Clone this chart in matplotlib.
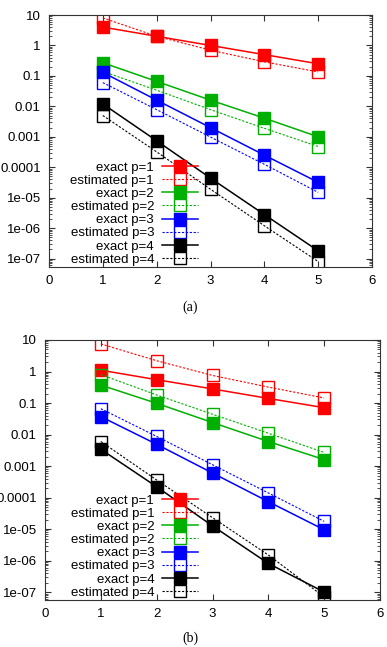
import matplotlib
matplotlib.use("Agg")
import matplotlib.pyplot as plt
from matplotlib.ticker import LogLocator, NullFormatter, FixedLocator

plt.rcParams['font.family'] = ['Liberation Sans', 'DejaVu Sans']

# x positions (refinement level)
levels = [1, 2, 3, 4, 5]
orders = [1, 2, 3, 4]

# panel (a): exact / estimated values per order p
exact_a = {
    1: [4.0, 2.0, 1.0, 0.5, 0.25],
    2: [0.27, 0.066, 0.016, 0.0041, 0.001],
    3: [0.13, 0.016, 0.002, 0.00025, 3.2e-5],
    4: [0.012, 0.00074, 4.4e-5, 2.8e-6, 1.8e-7],
}
estimated_a = {
    1: [8.0, 2.0, 0.7, 0.29, 0.135],
    2: [0.14, 0.034, 0.0078, 0.0019, 0.00048],
    3: [0.06, 0.0078, 0.00098, 0.000125, 1.5e-5],
    4: [0.005, 0.00032, 1.9e-5, 1.2e-6, 8e-8],
}

# panel (b)
exact_b = {
    1: [1.1, 0.55, 0.28, 0.14, 0.071],
    2: [0.37, 0.098, 0.024, 0.006, 0.0016],
    3: [0.037, 0.0049, 0.0006, 7.4e-5, 9.5e-6],
    4: [0.0034, 0.00022, 1.26e-5, 8.1e-7, 1.0e-7],
}
estimated_b = {
    1: [7.5, 2.2, 0.75, 0.32, 0.145],
    2: [0.8, 0.18, 0.044, 0.011, 0.0027],
    3: [0.066, 0.0087, 0.0011, 0.00014, 1.75e-5],
    4: [0.006, 0.00036, 2.3e-5, 1.5e-6, 7e-8],
}

colors = {1: '#ff0000', 2: '#00b000', 3: '#0000ff', 4: '#000000'}


def draw_panel(ax, exact, estimated, ymin, legend_x):
    for p in orders:
        c = colors[p]
        ax.plot(levels, exact[p], color=c, lw=1.1, marker='s', ms=8,
                mfc=c, mec=c, mew=1.0, label=f"exact p={p}")
        ax.plot(levels, estimated[p], color=c, lw=0.8, ls=(0, (2, 1.5)),
                marker='s', ms=8, mfc='none', mec=c, mew=1.0,
                label=f"estimated p={p}")
    ax.set_yscale('log')
    ax.set_xlim(0, 6)
    ax.set_ylim(ymin, 10)
    ax.set_xticks(range(0, 7))
    ax.yaxis.set_major_locator(FixedLocator([1e-7, 1e-6, 1e-5, 1e-4, 1e-3, 1e-2, 1e-1, 1, 10]))
    ax.set_yticklabels(['1e-07', '1e-06', '1e-05', '0.0001', '0.001', '0.01', '0.1', '1', '10'])
    ax.yaxis.set_minor_locator(LogLocator(base=10, subs=range(2, 10), numticks=20))
    ax.yaxis.set_minor_formatter(NullFormatter())
    ax.tick_params(which='both', direction='in', top=True, right=True,
                   labelsize=9.5, color='#333333')
    ax.tick_params(which='major', length=4, pad=6)
    ax.tick_params(which='minor', length=2)
    for s in ax.spines.values():
        s.set_color('#333333')
        s.set_linewidth(0.8)
    ax.legend(loc='lower right', bbox_to_anchor=(legend_x, 0.0), frameon=False,
              markerfirst=False, fontsize=9.5, labelspacing=0.07,
              handlelength=2.7, handletextpad=0.6, borderpad=0.1,
              borderaxespad=0.0)


fig = plt.figure(figsize=(3.87, 6.47), dpi=100)
ax_a = fig.add_axes([49 / 387, 1 - 267 / 647, 323 / 387, 252 / 647])
ax_b = fig.add_axes([45 / 387, 1 - 600 / 647, 335 / 387, 260 / 647])

draw_panel(ax_a, exact_a, estimated_a, 5.3e-8, 0.464)
draw_panel(ax_b, exact_b, estimated_b, 5.6e-8, 0.46)

fig.text(190 / 387, 1 - 307 / 647, '(a)', ha='center', va='center',
         family='Liberation Serif', fontsize=10)
fig.text(190 / 387, 1 - 638 / 647, '(b)', ha='center', va='center',
         family='Liberation Serif', fontsize=10)

fig.savefig('out.png', dpi=100)
